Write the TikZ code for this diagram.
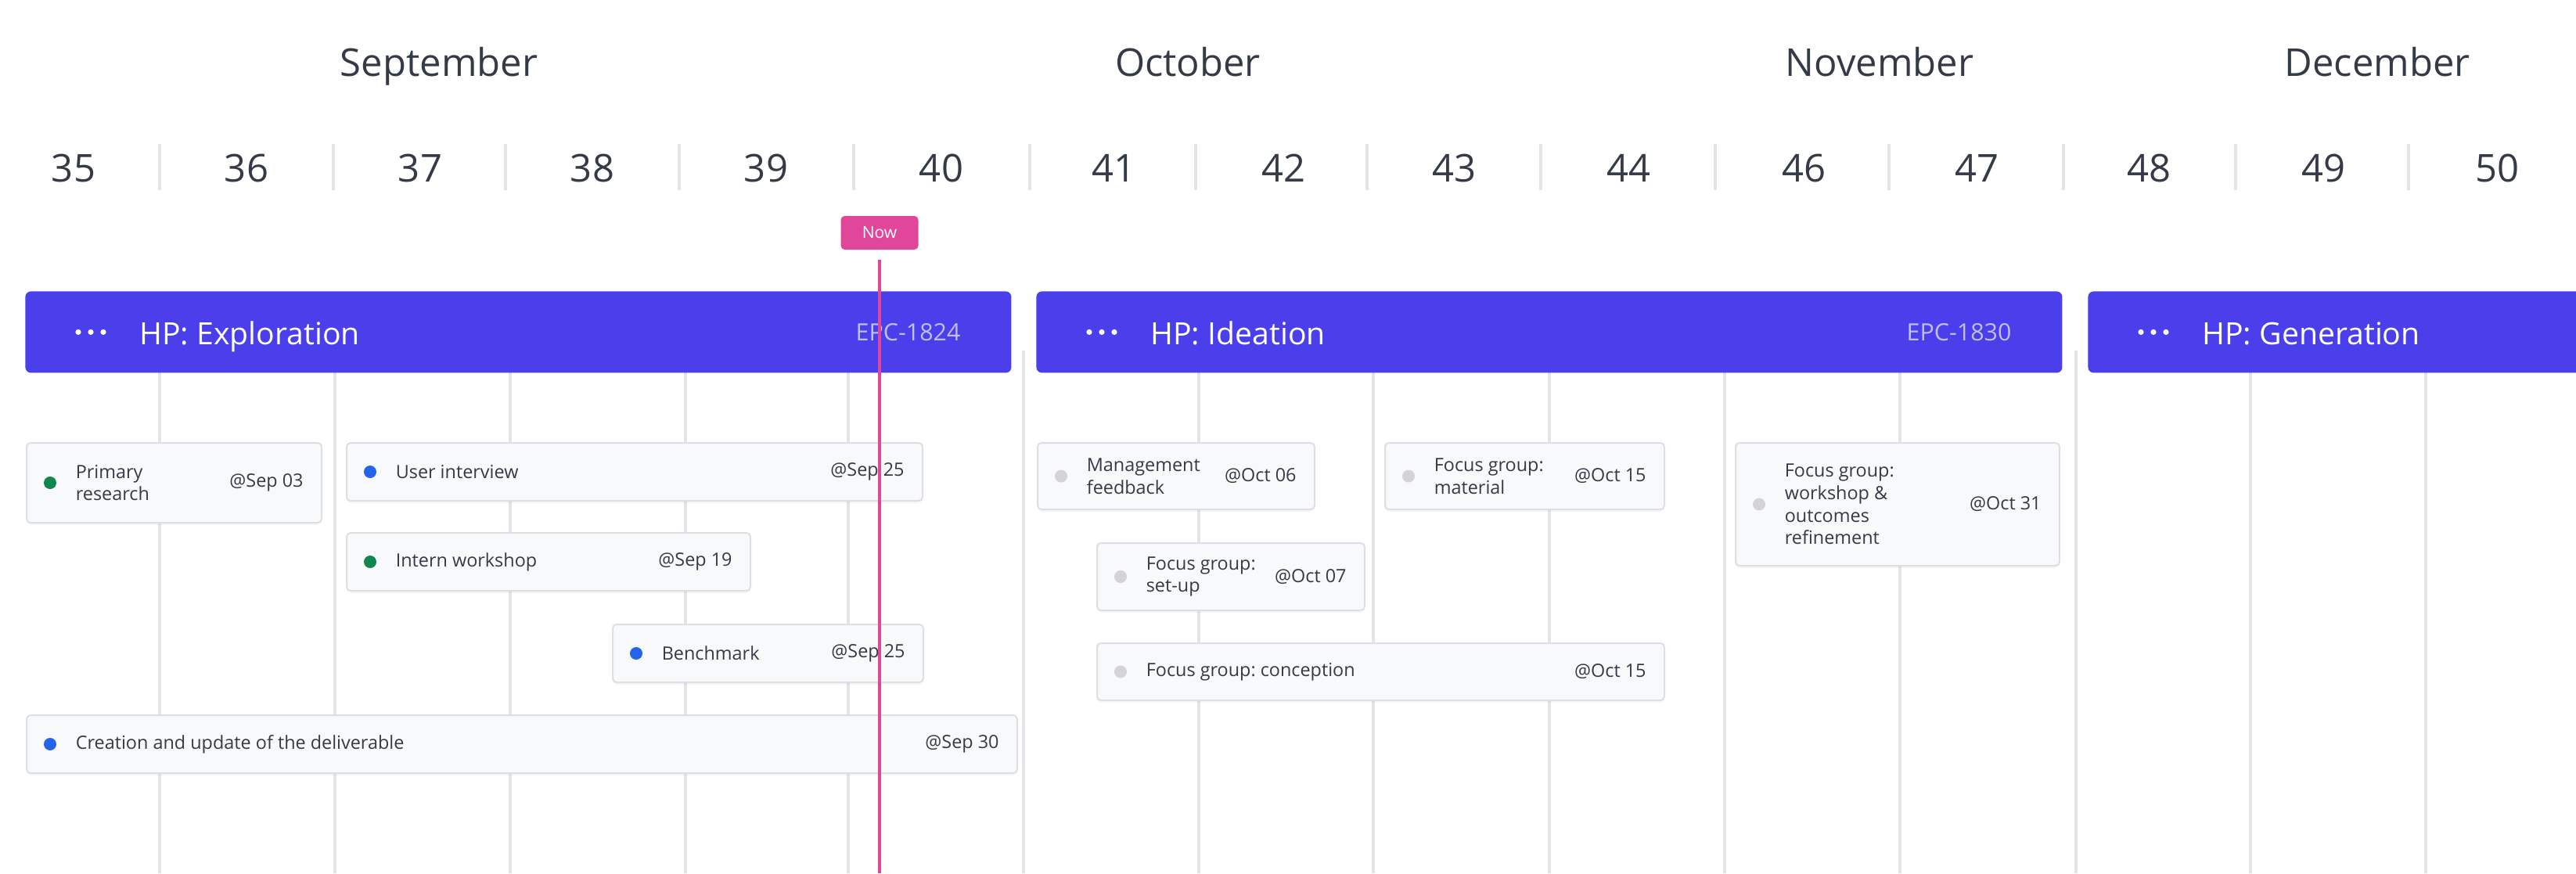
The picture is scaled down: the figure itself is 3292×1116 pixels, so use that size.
\documentclass[tikz,border=0pt]{standalone}
\usepackage{fontspec}
\setmainfont{Open Sans}
\usetikzlibrary{positioning,shadows}
\frenchspacing

\definecolor{barblue}{HTML}{4A3FEB}
\definecolor{epctext}{HTML}{C2BEF8}
\definecolor{nowpink}{HTML}{E0479A}
\definecolor{gridgray}{HTML}{E4E4E7}
\definecolor{cardfill}{HTML}{F8F9FA}
\definecolor{cardline}{HTML}{DEDFE3}
\definecolor{textdark}{HTML}{343A46}
\definecolor{dotgreen}{HTML}{12864F}
\definecolor{dotblue}{HTML}{2563EB}
\definecolor{dotgray}{HTML}{D4D4D8}

\tikzset{
  month/.style={anchor=base, inner sep=0pt, text=textdark, font=\fontsize{24.5}{28}\selectfont},
  weeknum/.style={month},
  weeksep/.style={draw=gridgray, line width=1.75pt},
  gridline/.style={draw=gridgray, line width=1.75pt},
  phasebar/.style={fill=barblue, rounded corners=3.5pt, anchor=north west, inner sep=0pt, minimum height=52pt},
  phasetitle/.style={anchor=base west, inner sep=0pt, text=white, font=\fontsize{19.6}{22}\selectfont},
  epcid/.style={anchor=base east, inner sep=0pt, text=epctext, font=\fontsize{15.2}{18}\selectfont},
  task/.style={draw=cardline, line width=1pt, fill=cardfill, rounded corners=2.5pt, anchor=north west, inner sep=0pt,
    drop shadow={shadow xshift=0pt, shadow yshift=-1.5pt, opacity=.07}},
  taskdot/.style={circle, inner sep=0pt, minimum size=8pt},
  tasktext/.style={anchor=west, inner sep=0pt, align=left, text=textdark, font=\fontsize{11.7}{14.3}\selectfont},
  taskdate/.style={anchor=east, inner sep=0pt, text=textdark, font=\fontsize{11.7}{14.3}\selectfont},
  nowtag/.style={fill=nowpink, rounded corners=2.5pt, inner sep=0pt, minimum width=49.5pt, minimum height=21.5pt,
    text=white, font=\fontsize{10.5}{12}\selectfont},
  nowline/.style={draw=nowpink, line width=2pt},
}

\begin{document}
\begin{tikzpicture}[x=0.5pt, y=-0.5pt]
  \useasboundingbox (0,0) rectangle (3292,1116);
  \clip (0,0) rectangle (3292,1116);

  % Months
  \node[month] (sep) at (561,97) {September};
  \node[month] (oct) at (1518,97) {October};
  \node[month] (nov) at (2402,97) {November};
  \node[month] (dec) at (3038,97) {December};

  % Weeks
  \foreach \w/\x in {35/94, 36/315, 37/537, 38/757, 39/979, 40/1203, 41/1423, 42/1640,
                     43/1858, 44/2081, 46/2305, 47/2526, 48/2746, 49/2969, 50/3191}
    \node[weeknum] (w\w) at (\x,232) {\w};
  \foreach \x in {204,426,646,868,1091,1316,1528,1747,1969,2192,2414,2637,2857,3078}
    \draw[weeksep] (\x,184) -- (\x,243);

  % Grid
  \foreach \x in {204,428,652,876,1084,1532,1755,1980,2204,2428,2876,3100}
    \draw[gridline] (\x,476) -- (\x,1116);
  \foreach \x in {1308,2653}
    \draw[gridline] (\x,448) -- (\x,1116);

  % Phases
  \node[phasebar, minimum width=630pt] (expl) at (32,372) {};
  \node[phasebar, minimum width=655.5pt] (idea) at (1324,372) {};
  \node[phasebar, minimum width=330pt] (gene) at (2668,372) {};
  \foreach \b in {expl,idea,gene}
    \foreach \i in {0,1,2}
      \fill[white] ([xshift=34pt+8pt*\i]\b.west) circle (1.8pt);
  \node[phasetitle] (expltitle) at ([xshift=73pt, yshift=-8pt]expl.west) {HP: Exploration};
  \node[epcid] (explid) at ([xshift=-32.5pt, yshift=-5.5pt]expl.east) {EPC-1824};
  \node[phasetitle] (ideatitle) at ([xshift=73pt, yshift=-8pt]idea.west) {HP: Ideation};
  \node[epcid] (ideaid) at ([xshift=-32.5pt, yshift=-5.5pt]idea.east) {EPC-1830};
  \node[phasetitle] (genetitle) at ([xshift=73pt, yshift=-8pt]gene.west) {HP: Generation};

  % Exploration tasks
  \node[task, minimum width=188.5pt, minimum height=51pt] (prim) at (33,565) {};
  \node[taskdot, fill=dotgreen] (primdot) at ([xshift=15.5pt]prim.west) {};
  \node[tasktext, right=12pt of primdot] (primtext) {Primary\\research};
  \node[taskdate] (primdate) at ([xshift=-12pt]prim.east) {@Sep 03};

  \node[task, minimum width=368pt, minimum height=37pt] (user) at (442,565) {};
  \node[taskdot, fill=dotblue] (userdot) at ([xshift=15.5pt]user.west) {};
  \node[tasktext, right=12pt of userdot] (usertext) {User interview};
  \node[taskdate] (userdate) at ([xshift=-12pt]user.east) {@Sep 25};

  \node[task, minimum width=258pt, minimum height=37pt] (intern) at (442,680) {};
  \node[taskdot, fill=dotgreen] (interndot) at ([xshift=15.5pt]intern.west) {};
  \node[tasktext, right=12pt of interndot] (interntext) {Intern workshop};
  \node[taskdate] (interndate) at ([xshift=-12pt]intern.east) {@Sep 19};

  \node[task, minimum width=198.5pt, minimum height=37pt] (bench) at (782,797) {};
  \node[taskdot, fill=dotblue] (benchdot) at ([xshift=15.5pt]bench.west) {};
  \node[tasktext, right=12pt of benchdot] (benchtext) {Benchmark};
  \node[taskdate] (benchdate) at ([xshift=-12pt]bench.east) {@Sep 25};

  \node[task, minimum width=633pt, minimum height=37pt] (deliv) at (33,913) {};
  \node[taskdot, fill=dotblue] (delivdot) at ([xshift=15.5pt]deliv.west) {};
  \node[tasktext, right=12pt of delivdot] (delivtext) {Creation and update of the deliverable};
  \node[taskdate] (delivdate) at ([xshift=-12pt]deliv.east) {@Sep 30};

  % Ideation tasks
  \node[task, minimum width=177pt, minimum height=42.5pt] (mgmt) at (1325,565) {};
  \node[taskdot, fill=dotgray] (mgmtdot) at ([xshift=15.5pt]mgmt.west) {};
  \node[tasktext, right=12pt of mgmtdot] (mgmttext) {Management\\feedback};
  \node[taskdate] (mgmtdate) at ([xshift=-12pt]mgmt.east) {@Oct 06};

  \node[task, minimum width=178.5pt, minimum height=42.5pt] (mat) at (1769,565) {};
  \node[taskdot, fill=dotgray] (matdot) at ([xshift=15.5pt]mat.west) {};
  \node[tasktext, right=12pt of matdot] (mattext) {Focus group:\\material};
  \node[taskdate] (matdate) at ([xshift=-12pt]mat.east) {@Oct 15};

  \node[task, minimum width=207pt, minimum height=78.5pt] (wshop) at (2217,565) {};
  \node[taskdot, fill=dotgray] (wshopdot) at ([xshift=15.5pt]wshop.west) {};
  \node[tasktext, right=12pt of wshopdot] (wshoptext) {Focus group:\\workshop \&\\outcomes\\refinement};
  \node[taskdate] (wshopdate) at ([xshift=-12pt]wshop.east) {@Oct 31};

  \node[task, minimum width=171pt, minimum height=43pt] (setup) at (1401,693) {};
  \node[taskdot, fill=dotgray] (setupdot) at ([xshift=15.5pt]setup.west) {};
  \node[tasktext, right=12pt of setupdot] (setuptext) {Focus group:\\set-up};
  \node[taskdate] (setupdate) at ([xshift=-12pt]setup.east) {@Oct 07};

  \node[task, minimum width=362.5pt, minimum height=36.5pt] (concept) at (1401,821) {};
  \node[taskdot, fill=dotgray] (conceptdot) at ([xshift=15.5pt]concept.west) {};
  \node[tasktext, right=12pt of conceptdot] (concepttext) {Focus group: conception};
  \node[taskdate] (conceptdate) at ([xshift=-12pt]concept.east) {@Oct 15};

  % Now marker
  \node[nowtag] (now) at (1124,297.5) {Now};
  \coordinate (nowend) at (1124,1116);
  \draw[nowline, shorten <=6.5pt] (now) -- (nowend);
\end{tikzpicture}
\end{document}
